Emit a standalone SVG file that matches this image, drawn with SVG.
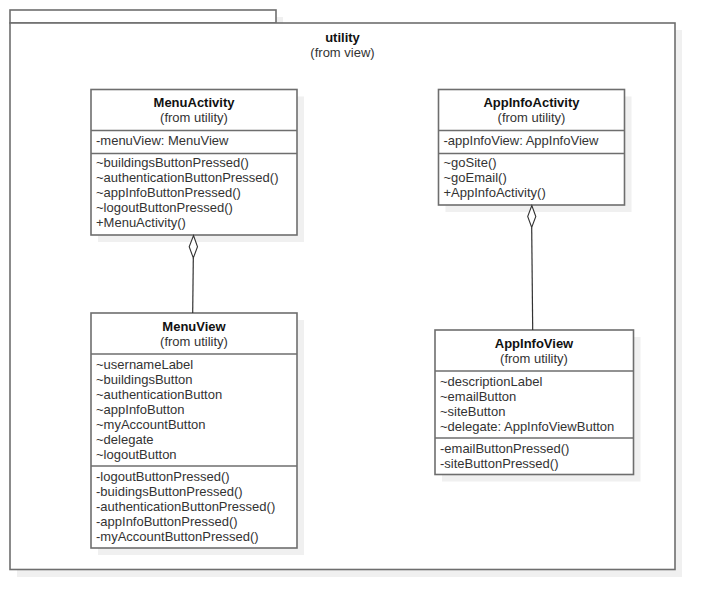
<svg xmlns="http://www.w3.org/2000/svg" width="715" height="610" viewBox="0 0 715 610">
<style>
.sh{fill:#f0f0f0;stroke:none}
.bx{fill:#fff;stroke:#6e6e6e;stroke-width:1.6}
.dv{stroke:#6e6e6e;stroke-width:1.6}
text{font-family:"Liberation Sans",Arial,sans-serif;font-size:13px;fill:#333}
.t{font-weight:bold;fill:#111;text-anchor:middle}
.c{text-anchor:middle}
.ln{stroke:#333;stroke-width:1.2;fill:none}
.dm{fill:#fff;stroke:#333;stroke-width:1.1}
</style>
<rect width="715" height="610" fill="#fff"/>
<g id="pkg-utility">
<rect class="sh" x="17" y="17" width="266" height="13"/>
<rect class="sh" x="17" y="30" width="665" height="547"/>
<rect class="bx" x="10" y="10" width="266" height="13"/>
<rect class="bx" x="10" y="23" width="665" height="546.5"/>
<text class="t" x="342.5" y="42">utility</text>
<text class="c" x="342.5" y="57">(from view)</text>
</g>
<g id="MenuActivity">
<rect class="sh" x="98" y="96.5" width="206" height="145.5"/>
<rect class="bx" x="91" y="89.5" width="206" height="145.5"/>
<line class="dv" x1="91" y1="130.5" x2="297" y2="130.5"/>
<line class="dv" x1="91" y1="153.5" x2="297" y2="153.5"/>
<text class="t" x="194" y="107">MenuActivity</text>
<text class="c" x="194" y="122">(from utility)</text>
<text x="96" y="145">-menuView: MenuView</text>
<text x="96" y="167">~buildingsButtonPressed()</text>
<text x="96" y="182">~authenticationButtonPressed()</text>
<text x="96" y="197">~appInfoButtonPressed()</text>
<text x="96" y="212">~logoutButtonPressed()</text>
<text x="96" y="227">+MenuActivity()</text>
</g>
<g id="AppInfoActivity">
<rect class="sh" x="445.5" y="96.5" width="186" height="115.5"/>
<rect class="bx" x="438.5" y="89.5" width="186" height="115.5"/>
<line class="dv" x1="438.5" y1="130.5" x2="624.5" y2="130.5"/>
<line class="dv" x1="438.5" y1="153.5" x2="624.5" y2="153.5"/>
<text class="t" x="531.5" y="107">AppInfoActivity</text>
<text class="c" x="531.5" y="122">(from utility)</text>
<text x="443.5" y="145">-appInfoView: AppInfoView</text>
<text x="443.5" y="167">~goSite()</text>
<text x="443.5" y="182">~goEmail()</text>
<text x="443.5" y="197">+AppInfoActivity()</text>
</g>
<g id="MenuView">
<rect class="sh" x="98" y="320" width="206" height="235"/>
<rect class="bx" x="91" y="313" width="206" height="235"/>
<line class="dv" x1="91" y1="354" x2="297" y2="354"/>
<line class="dv" x1="91" y1="466" x2="297" y2="466"/>
<text class="t" x="194" y="330.5">MenuView</text>
<text class="c" x="194" y="345.5">(from utility)</text>
<text x="96" y="368.5">~usernameLabel</text>
<text x="96" y="383.5">~buildingsButton</text>
<text x="96" y="398.5">~authenticationButton</text>
<text x="96" y="413.5">~appInfoButton</text>
<text x="96" y="428.5">~myAccountButton</text>
<text x="96" y="443.5">~delegate</text>
<text x="96" y="458.5">~logoutButton</text>
<text x="96" y="480.5">-logoutButtonPressed()</text>
<text x="96" y="495.5">-buidingsButtonPressed()</text>
<text x="96" y="510.5">-authenticationButtonPressed()</text>
<text x="96" y="525.5">-appInfoButtonPressed()</text>
<text x="96" y="540.5">-myAccountButtonPressed()</text>
</g>
<g id="AppInfoView">
<rect class="sh" x="442" y="337" width="198.5" height="144.5"/>
<rect class="bx" x="435" y="330" width="198.5" height="144.5"/>
<line class="dv" x1="435" y1="371" x2="633.5" y2="371"/>
<line class="dv" x1="435" y1="438" x2="633.5" y2="438"/>
<text class="t" x="534" y="347.5">AppInfoView</text>
<text class="c" x="534" y="362.5">(from utility)</text>
<text x="440" y="385.5">~descriptionLabel</text>
<text x="440" y="400.5">~emailButton</text>
<text x="440" y="415.5">~siteButton</text>
<text x="440" y="430.5">~delegate: AppInfoViewButton</text>
<text x="440" y="452.5">-emailButtonPressed()</text>
<text x="440" y="467.5">-siteButtonPressed()</text>
</g>
<g id="connectors">
<line class="ln" x1="193.3" y1="258" x2="192.7" y2="313"/>
<path class="dm" d="M193.5 235.5 L197.5 246.7 L193.3 258 L189.2 246.7 Z"/>
<line class="ln" x1="531.7" y1="227.5" x2="532.7" y2="330"/>
<path class="dm" d="M531.8 205.5 L535.8 216.5 L531.7 227.5 L527.7 216.5 Z"/>
</g>
</svg>
